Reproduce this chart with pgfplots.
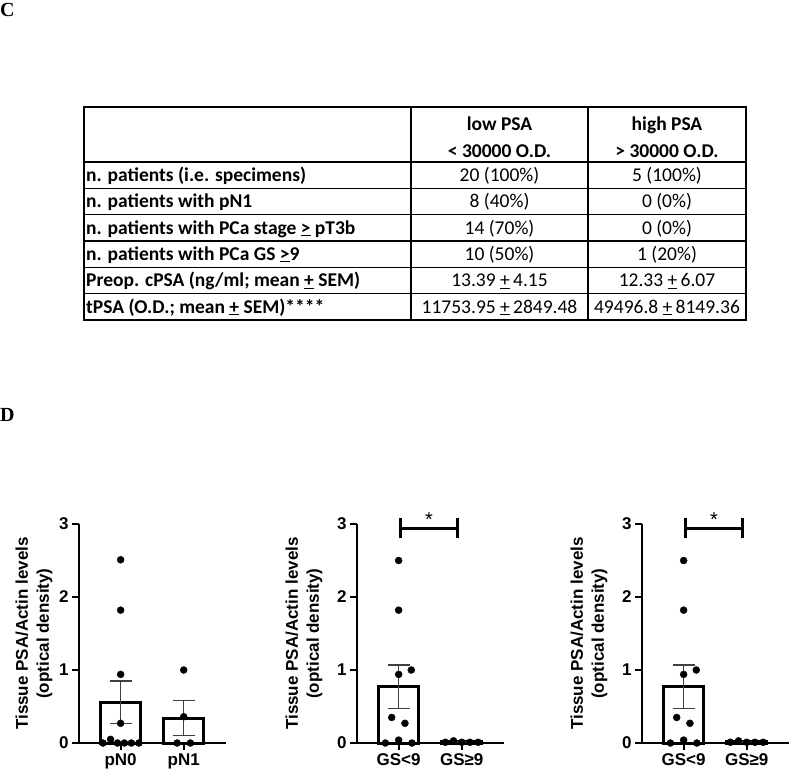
\documentclass[border=0pt]{standalone}
\usepackage{fontspec}
\setmainfont{Liberation Sans}
\newfontfamily\calibri{Carlito}
\newfontfamily\timesf{Liberation Serif}
\usepackage{pgfplots}
\pgfplotsset{compat=1.18}

\pgfplotsset{
  tissue/.style={
    scale only axis, width=147pt, height=219pt,
    anchor=south west,
    axis lines=left, axis line style={-, line width=2pt},
    ymin=0, ymax=3, ytick={0,1,2,3},
    xmin=-0.66, xmax=1.67, xtick={0,1},
    tick style={line width=2pt, black}, major tick length=7pt, tick align=outside,
    ticklabel style={font=\bfseries\fontsize{17}{17}\selectfont},
    /pgf/number format/assume math mode=true,
    ylabel={Tissue PSA/Actin levels\\(optical density)},
    ylabel style={align=center, anchor=center, font=\bfseries\fontsize{17}{21}\selectfont},
    clip=false,
  },
  bars/.style={ybar, bar width=0.63, fill=white, draw=black, line width=3pt,
    error bars/.cd, y dir=both, y explicit, error mark=|,
    error bar style={line width=1.3pt, draw=black!75},
    error mark options={mark size=11pt, line width=1.3pt, draw=black!75}},
  dots/.style={only marks, mark=*, mark size=3.5pt, black},
}

\newcommand{\tb}{\calibri\bfseries\fontsize{19.5}{19.5}\selectfont}
\newcommand{\tr}{\calibri\fontsize{19.5}{19.5}\selectfont}

\begin{document}
\begin{tikzpicture}[x=1pt,y=1pt]
\useasboundingbox (0,0) rectangle (791,-774);

% panel letters
\node[anchor=north west, inner sep=0, font=\timesf\bfseries\fontsize{20}{20}\selectfont] at (0,-3) {C};
\node[anchor=north west, inner sep=0, font=\timesf\bfseries\fontsize{20}{20}\selectfont] at (0,-408) {D};

% table C
\draw[line width=1.3pt] (84,-107) rectangle (746,-320);
\foreach \y in {162,188.33,214.67,241,267.33,293.67}
  \draw[line width=1.2pt] (84,-\y) -- (746,-\y);
\draw[line width=1.2pt] (411,-107) -- (411,-320);
\draw[line width=1.2pt] (588,-107) -- (588,-320);

\node[anchor=base, inner sep=0] at (499.5,-130) {\tb low PSA};
\node[anchor=base, inner sep=0] at (499.5,-157) {\tb < 30000 O.D.};
\node[anchor=base, inner sep=0] at (667,-130) {\tb high PSA};
\node[anchor=base, inner sep=0] at (667,-157) {\tb > 30000 O.D.};

\node[anchor=base west, inner sep=0] at (86,-181) {\tb n. patients (i.e. specimens)};
\node[anchor=base west, inner sep=0] at (86,-207.5) {\tb n. patients with pN1};
\node[anchor=base west, inner sep=0] at (86,-234) {\tb n. patients with PCa stage \underline{>} pT3b};
\node[anchor=base west, inner sep=0] at (86,-260) {\tb n. patients with PCa GS \underline{>}9};
\node[anchor=base west, inner sep=0] at (86,-286.5) {\tb Preop. cPSA (ng/ml; mean \underline{+} SEM)};
\node[anchor=base west, inner sep=0] at (86,-313) {\tb tPSA (O.D.; mean \underline{+} SEM)****};

\node[anchor=base, inner sep=0] at (499.5,-181) {\tr 20 (100\%)};
\node[anchor=base, inner sep=0] at (499.5,-207.5) {\tr 8 (40\%)};
\node[anchor=base, inner sep=0] at (499.5,-234) {\tr 14 (70\%)};
\node[anchor=base, inner sep=0] at (499.5,-260) {\tr 10 (50\%)};
\node[anchor=base, inner sep=0] at (499.5,-286.5) {\tr 13.39 \underline{+}\,4.15};
\node[anchor=base, inner sep=0] at (499.5,-313) {\tr 11753.95 \underline{+}\,2849.48};

\node[anchor=base, inner sep=0] at (667,-181) {\tr 5 (100\%)};
\node[anchor=base, inner sep=0] at (667,-207.5) {\tr 0 (0\%)};
\node[anchor=base, inner sep=0] at (667,-234) {\tr 0 (0\%)};
\node[anchor=base, inner sep=0] at (667,-260) {\tr 1 (20\%)};
\node[anchor=base, inner sep=0] at (667,-286.5) {\tr 12.33 \underline{+}\,6.07};
\node[anchor=base, inner sep=0] at (667,-313) {\tr 49496.8 \underline{+}\,8149.36};

% panel D, chart 1: nodal status
\begin{axis}[tissue, at={(79pt,-743pt)}, xticklabels={pN0,pN1},
  ylabel style={at={(axis description cs:-0.306,0.5)}}]
\addplot[bars] coordinates {(0,0.56) +- (0,0.29) (1,0.34) +- (0,0.24)};
\addplot[dots] coordinates {(0,2.51) (0,1.82) (0,0.94) (0,0.27) (-0.16,0.05)
  (-0.28,0) (-0.05,0) (0.06,0) (0.17,0) (0.29,0)};
\addplot[dots] coordinates {(1,1.0) (1,0.36) (0.895,0) (1.105,0)};
\end{axis}

% chart 2: Gleason score
\begin{axis}[tissue, at={(357pt,-743pt)}, xticklabels={GS<9,GS≥9},
  ylabel style={at={(axis description cs:-0.36,0.5)}}]
\addplot[bars] coordinates {(0,0.77) +- (0,0.30) (1,0.015) +- (0,0.008)};
\addplot[dots] coordinates {(0,2.5) (0,1.82) (0.2,1.0) (0,0.94) (-0.11,0.35)
  (0.1,0.27) (-0.21,0) (0,0.04) (0.21,0)};
\addplot[dots] coordinates {(0.74,0.01) (0.87,0.03) (1,0.01) (1.13,0.01) (1.26,0.01)};
\draw[line width=3pt] (axis cs:0.03,2.81) -- (axis cs:0.03,3.08);
\draw[line width=3pt] (axis cs:0.93,2.81) -- (axis cs:0.93,3.08);
\draw[line width=3pt] (axis cs:0.03,2.945) -- (axis cs:0.93,2.945);
\node[anchor=base, inner sep=0, font=\fontsize{20}{20}\selectfont] at (axis cs:0.48,2.96) {*};
\end{axis}

% chart 3: Gleason score
\begin{axis}[tissue, at={(642pt,-743pt)}, xticklabels={GS<9,GS≥9},
  ylabel style={at={(axis description cs:-0.36,0.5)}}]
\addplot[bars] coordinates {(0,0.77) +- (0,0.30) (1,0.015) +- (0,0.008)};
\addplot[dots] coordinates {(0,2.5) (0,1.82) (0.2,1.0) (0,0.94) (-0.11,0.35)
  (0.1,0.27) (-0.21,0) (0,0.04) (0.21,0)};
\addplot[dots] coordinates {(0.74,0.01) (0.87,0.03) (1,0.01) (1.13,0.01) (1.26,0.01)};
\draw[line width=3pt] (axis cs:0.03,2.81) -- (axis cs:0.03,3.08);
\draw[line width=3pt] (axis cs:0.93,2.81) -- (axis cs:0.93,3.08);
\draw[line width=3pt] (axis cs:0.03,2.945) -- (axis cs:0.93,2.945);
\node[anchor=base, inner sep=0, font=\fontsize{20}{20}\selectfont] at (axis cs:0.48,2.96) {*};
\end{axis}
\end{tikzpicture}
\end{document}
